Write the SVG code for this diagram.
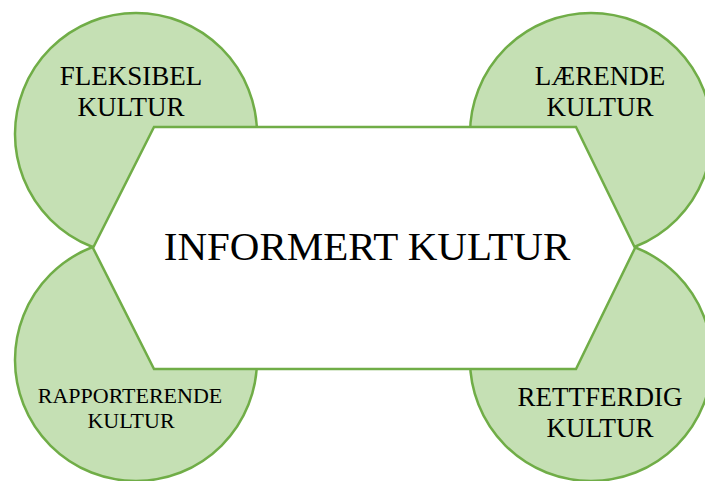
<svg xmlns="http://www.w3.org/2000/svg" width="705" height="481" viewBox="0 0 705 481">
<style>
.c{fill:#C5E0B4;stroke:#70AD47;stroke-width:2.5}
.h{fill:#FFFFFF;stroke:#70AD47;stroke-width:2.5;stroke-linejoin:miter}
text{font-family:"Liberation Serif","Times New Roman",serif;fill:#000;text-anchor:middle}
.s{font-size:27px}
.r{font-size:22px}
.m{font-size:41px}
</style>
<rect width="705" height="481" fill="#FFFFFF"/>
<g id="fleksibel"><circle class="c" cx="136" cy="134" r="121"/></g>
<g id="rapporterende"><circle class="c" cx="136" cy="360" r="121"/></g>
<g id="laerende"><circle class="c" cx="591" cy="134" r="121"/></g>
<g id="rettferdig"><circle class="c" cx="591" cy="360" r="121"/></g>
<g id="informert"><polygon class="h" points="154,127 576,127 635,248 576,369 154,369 93,248"/>
<text class="m" x="367" y="260">INFORMERT KULTUR</text></g>
<g id="labels">
<text class="s" x="131" y="85">FLEKSIBEL</text>
<text class="s" x="131" y="116">KULTUR</text>
<text class="s" x="600" y="85">LÆRENDE</text>
<text class="s" x="600" y="116">KULTUR</text>
<text class="r" x="130" y="403">RAPPORTERENDE</text>
<text class="r" x="131" y="428">KULTUR</text>
<text class="s" x="600" y="406">RETTFERDIG</text>
<text class="s" x="600" y="437">KULTUR</text>
</g>
<g id="connectors"></g>
</svg>
